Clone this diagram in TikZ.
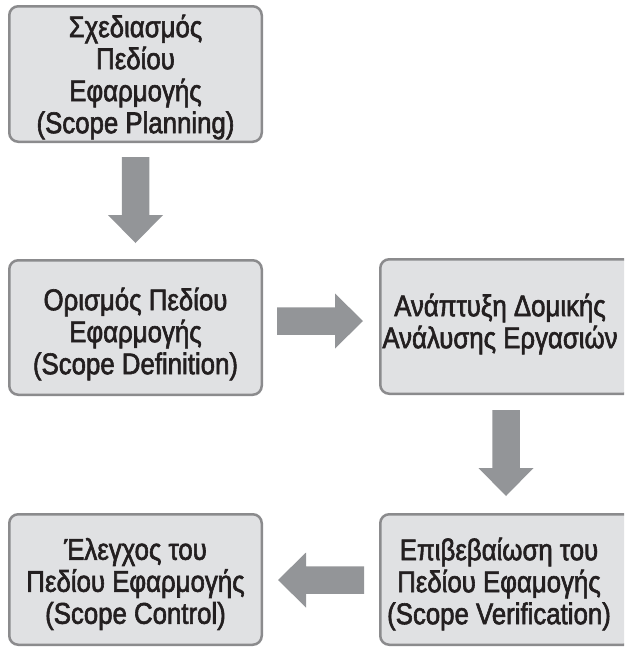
\documentclass[tikz,border=0pt]{standalone}
\usepackage{fontspec}
\setmainfont{Liberation Sans}[FakeStretch=0.86,FakeBold=2]
\definecolor{boxfill}{HTML}{E0E1E3}
\definecolor{boxline}{HTML}{8B8B8D}
\definecolor{arrowc}{HTML}{939598}
\definecolor{txt}{HTML}{231F20}
\begin{document}
\begin{tikzpicture}[x=1pt,y=-1pt,
  box/.style={draw=boxline, fill=boxfill, line width=2.5pt, rounded corners=9pt,
    minimum width=252.5pt, minimum height=135pt, inner sep=0pt},
  lbl/.style={align=center, text=txt, font=\fontsize{30}{32}\selectfont, inner sep=0pt},
  barrow/.pic={\fill[arrowc] (0,-13.75) -- (58,-13.75) -- (58,-27.5) -- (86,0) -- (58,27.5) -- (58,13.75) -- (0,13.75) -- cycle;}]
\useasboundingbox (0,0) rectangle (624,648);
\clip (0,0) rectangle (624,648);
% boxes
\node[box, minimum height=135.5pt] (b1) at (135.5,74) {};
\node[box, minimum height=134.5pt] (b2) at (135.5,327.5) {};
\node[box, minimum height=134.5pt] (b3) at (506.5,326.5) {};
\node[box, minimum height=130.5pt] (b4) at (135.5,579.5) {};
\node[box, minimum height=130.5pt] (b5) at (506.5,579.5) {};
% texts
\node[lbl] (t1) at (135.5,77) {Σχεδιασμός\\Πεδίου\\Εφαρμογής\\(Scope Planning)};
\node[lbl] (t2) at (135.5,334) {Ορισμός Πεδίου\\Εφαρμογής\\(Scope Definition)};
\node[lbl] (t3) at (500,324) {Ανάπτυξη Δομικής\\Ανάλυσης Εργασιών};
\node[lbl] (t4) at (135.5,584) {Έλεγχος του\\Πεδίου Εφαρμογής\\(Scope Control)};
\node[lbl] (t5) at (499,584) {Επιβεβαίωση του\\Πεδίου Εφαμογής\\(Scope Verification)};
% block arrows
\coordinate (a1) at (135.5,157);
\coordinate (a2) at (277,321);
\coordinate (a3) at (506,410);
\coordinate (a4) at (364,580);
\pic[rotate=-90] at (a1) {barrow};
\pic at (a2) {barrow};
\pic[rotate=-90] at (a3) {barrow};
\pic[rotate=180] at (a4) {barrow};
\end{tikzpicture}
\end{document}
